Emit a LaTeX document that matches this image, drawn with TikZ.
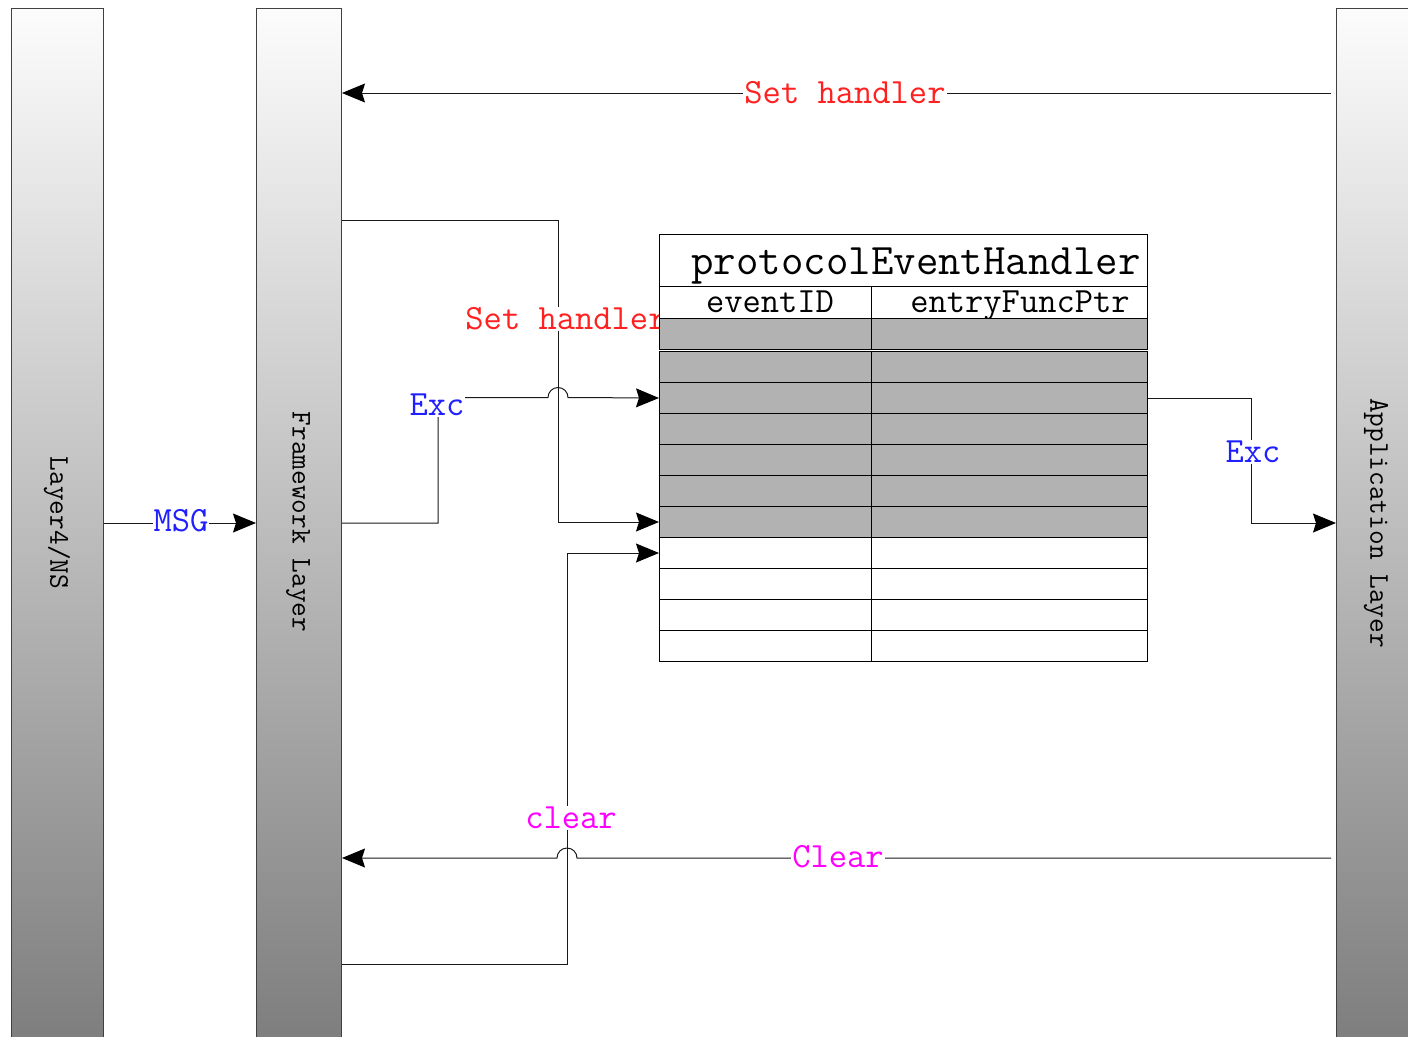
\documentclass[tikz,border=0pt]{standalone}
\usepackage{fontspec}
\usetikzlibrary{arrows.meta}
\definecolor{lblred}{RGB}{255,32,32}
\definecolor{lblblue}{RGB}{32,32,255}
\definecolor{lblmag}{RGB}{255,0,255}
\definecolor{rowgray}{RGB}{178,178,178}
\definecolor{bartop}{RGB}{252,252,252}
\definecolor{barbot}{RGB}{125,125,125}
\pgfdeclarelayer{barlayer}
\pgfdeclarelayer{linelayer}
\pgfsetlayers{barlayer,linelayer,main}
\begin{document}
\begin{tikzpicture}[x=1pt,y=-1pt,
  bar/.style={draw=black!75, line width=1pt, top color=bartop, bottom color=barbot, inner sep=0pt, anchor=north west, minimum height=1040pt},
  vtext/.style={rotate=-90, inner sep=0pt, font=\ttfamily\fontsize{28.5}{28.5}\selectfont},
  cell/.style={draw=black, line width=1pt, inner sep=0pt, anchor=north west, minimum height=31pt},
  gcell/.style={cell, fill=rowgray},
  wcell/.style={cell, fill=white},
  cola/.style={minimum width=212pt},
  colb/.style={minimum width=276pt},
  conn/.style={draw=black!90, line width=1pt},
  arr/.style={conn, -{Stealth[length=23pt,width=19pt,inset=3pt,color=black]}},
  lbl/.style={fill=white, inner sep=1pt, font=\ttfamily\fontsize{35.5}{35.5}\selectfont},
  ttext/.style={inner sep=0pt, anchor=base, font=\ttfamily\fontsize{43.6}{43.6}\selectfont},
  htext/.style={inner sep=0pt, anchor=base, font=\ttfamily\fontsize{35.5}{35.5}\selectfont}
]
\useasboundingbox (0,0) rectangle (1408,1036);

% ---- table (main layer) ----
\node[cell, minimum width=488pt, minimum height=52pt, fill=white] (tt) at (659,234) {};
\node[ttext] (ttx) at (916,274) {protocolEventHandler};
\node[wcell, cola, minimum height=32pt] (h1) at (659,286) {};
\node[wcell, colb, minimum height=32pt] (h2) at (871,286) {};
\node[htext] (h1t) at (770,312) {eventID};
\node[htext] (h2t) at (1020,312) {entryFuncPtr};
\foreach \i/\y/\f in {1/318/gcell,2/351/gcell,3/382/gcell,4/413/gcell,5/444/gcell,6/475/gcell,7/506/gcell,8/537/wcell,9/568/wcell,10/599/wcell,11/630/wcell}{
  \node[\f, cola] (ra\i) at (659,\y) {};
  \node[\f, colb] (rb\i) at (871,\y) {};
}

% ---- bars ----
\begin{pgfonlayer}{barlayer}
\node[bar, minimum width=92pt] (l4) at (11,8) {};
\node[bar, minimum width=85pt] (fw) at (256,8) {};
\node[bar, minimum width=85pt] (app) at (1336,8) {};
\node[vtext] (l4t) at (57,523) {Layer4/NS};
\node[vtext] (fwt) at (298,522) {Framework Layer};
\node[vtext] (appt) at (1376,523) {Application Layer};
\end{pgfonlayer}

% ---- connectors ----
\begin{pgfonlayer}{linelayer}
\coordinate (c2) at (558,220);
\coordinate (c3) at (438,397.5);
\coordinate (c5) at (1251,523);
\coordinate (c7) at (567,964);

% Set handler (top)
\draw[arr, shorten <=5pt] (app.west |- 0,93) -- (fw.east |- 0,93);
% Set handler (into table)
\draw[arr] (fw.east |- c2) -- (c2) |- (ra7.west);
% Exc (framework -> table)
\draw[arr] (fw.east |- 0,523) -| (c3) -- (548,397.5) arc[start angle=180, end angle=360, radius=10] -- (ra3.west);
% MSG
\draw[arr] (l4.east |- 0,523) -- (fw.west |- 0,523);
% Exc (table -> application)
\draw[arr] (rb3.east) -| (c5) -- (app.west |- c5);
% Clear
\draw[arr, shorten <=5pt] (app.west |- 0,858) -- (577,858) arc[start angle=0, end angle=-180, radius=10] -- (fw.east |- 0,858);
% clear (into table)
\draw[arr] (fw.east |- c7) -- (c7) |- (ra8.west);

\node[lbl, text=lblred] (sh1) at (845,93) {Set handler};
\node[lbl, text=lblred] (sh2) at (566,319) {Set handler};
\node[lbl, text=lblblue] (ex1) at (437,405) {Exc};
\node[lbl, text=lblblue] (msg) at (181,521) {MSG};
\node[lbl, text=lblblue] (ex2) at (1253,452) {Exc};
\node[lbl, text=lblmag] (clr1) at (838,857) {Clear};
\node[lbl, text=lblmag] (clr2) at (571,818) {clear};
\end{pgfonlayer}
\end{tikzpicture}
\end{document}
